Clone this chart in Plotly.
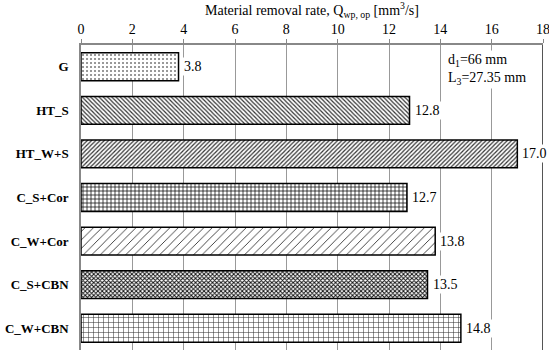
import plotly.graph_objects as go

categories = ["G", "HT_S", "HT_W+S", "C_S+Cor", "C_W+Cor", "C_S+CBN", "C_W+CBN"]
values = [3.8, 12.8, 17.0, 12.7, 13.8, 13.5, 14.8]
patterns = [".", "\\", "/", "+", "/", "x", "+"]
pattern_sizes = [4, 3, 3, 4, 6, 3, 5]
pattern_solidity = [0.2, 0.4, 0.4, 0.35, 0.15, 0.55, 0.2]
pattern_colors = ["#777777", "#333333", "#333333", "#111111", "#333333", "#111111", "#333333"]
x_max = 18

FONT = "Times New Roman, Liberation Serif, serif"

fig = go.Figure()
fig.add_trace(go.Bar(
    y=categories, x=values, orientation="h",
    marker=dict(
        color="white",
        line=dict(color="black", width=1.5),
        pattern=dict(shape=patterns, size=pattern_sizes, solidity=pattern_solidity,
                     fgcolor=pattern_colors, bgcolor="white", fillmode="replace"),
    ),
    width=0.64,
    showlegend=False,
    hoverinfo="skip",
))

for c, v in zip(categories, values):
    fig.add_annotation(x=v, y=c, text=f"{v:.1f}", showarrow=False,
                       xanchor="left", xshift=3, bgcolor="white",
                       font=dict(family=FONT, size=14, color="black"),
                       borderpad=1)

fig.add_annotation(x=0.79, y=0.985, xref="paper", yref="paper",
                   text="d<sub>1</sub>=66 mm<br>L<sub>3</sub>=27.35 mm",
                   showarrow=False, xanchor="left", yanchor="top", align="left",
                   bgcolor="white", font=dict(family=FONT, size=14, color="black"))

fig.add_shape(type="line", xref="x", yref="paper", x0=x_max, x1=x_max, y0=0, y1=1,
              line=dict(color="#555555", width=2), layer="above")

fig.update_layout(
    width=549, height=350,
    margin=dict(l=81, r=6, t=45, b=0, autoexpand=False),
    paper_bgcolor="white", plot_bgcolor="white",
    font=dict(family=FONT, size=14, color="black"),
    xaxis=dict(
        side="top", range=[0, x_max], dtick=2, automargin=False,
        showgrid=True, gridcolor="#999999", gridwidth=1,
        showline=True, linecolor="#888888", linewidth=1.5,
        ticks="outside", ticklen=4, tickcolor="#888888",
        tickfont=dict(family=FONT, size=14),
        ticklabeloverflow="allow",
        title=dict(text="Material removal rate, Q<sub>wp, op</sub> [mm<sup>3</sup>/s]",
                   font=dict(family=FONT, size=14), standoff=4),
        zeroline=False,
    ),
    yaxis=dict(
        autorange="reversed", automargin=False,
        showline=True, linecolor="#888888", linewidth=1.5,
        tickfont=dict(family=FONT, size=13, weight="bold"),
        ticks="", ticklabelstandoff=8,
    ),
)

fig.write_html("out.html", config={"displayModeBar": False},
               post_script="document.body.style.margin='0';")
